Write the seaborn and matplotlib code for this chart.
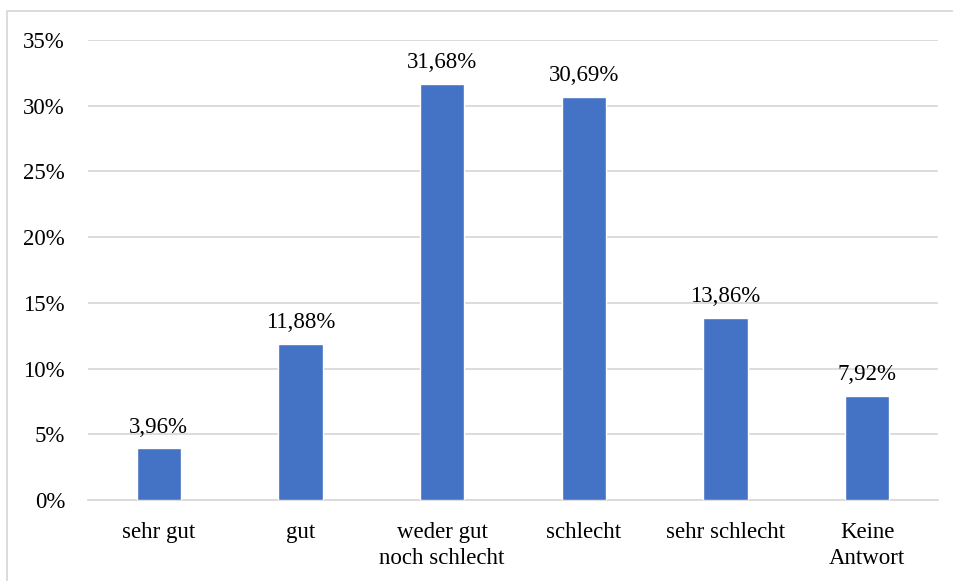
import matplotlib
matplotlib.use("Agg")
import matplotlib.pyplot as plt
import seaborn as sns
import pandas as pd
from matplotlib.patches import Rectangle
from matplotlib.ticker import FuncFormatter, MultipleLocator

categories = ["sehr gut", "gut", "weder gut\nnoch schlecht", "schlecht", "sehr schlecht", "Keine\nAntwort"]
values = [3.96, 11.88, 31.68, 30.69, 13.86, 7.92]

sns.set_theme(style="white")
plt.rcParams["font.family"] = ["Liberation Serif", "DejaVu Serif"]

df = pd.DataFrame({"Kategorie": categories, "Anteil": values})

fig = plt.figure(figsize=(9.54, 5.81), dpi=100)
ax = fig.add_axes([88 / 954, 1 - 500 / 581, (938 - 88) / 954, (500 - 40) / 581])

sns.barplot(data=df, x="Kategorie", y="Anteil", color="#4472C4", width=0.315,
            saturation=1, ax=ax, zorder=3)

FS = 16.5
ax.set_ylim(0, 35)
ax.set_xlim(-0.5, len(categories) - 0.5)
ax.yaxis.set_major_locator(MultipleLocator(5))
ax.yaxis.set_major_formatter(FuncFormatter(lambda v, _: f"{v:.0f}%"))
ax.grid(axis="y", color="#D9D9D9", linewidth=1.3, zorder=0)
ax.set_axisbelow(True)
for s in ["top", "right", "left"]:
    ax.spines[s].set_visible(False)
ax.spines["bottom"].set_color("#D9D9D9")
ax.spines["bottom"].set_linewidth(1.3)
ax.set_xlabel("")
ax.set_ylabel("")
ax.tick_params(axis="both", length=0, labelsize=FS, colors="black")
ax.tick_params(axis="y", pad=16.5)
ax.tick_params(axis="x", pad=15.5)
for lbl in ax.get_xticklabels():
    lbl.set_linespacing(1.35)

for bar, v in zip(ax.patches, values):
    ax.annotate(f"{v:.2f}%".replace(".", ","),
                (bar.get_x() + bar.get_width() / 2, bar.get_height()),
                xytext=(0, 7.5), textcoords="offset points",
                ha="center", va="bottom", fontsize=FS, color="black")

# light frame around the chart area
fig.patches.append(Rectangle((7 / 954, -0.1), 1.2, 1 - 11 / 581 + 0.1,
                             transform=fig.transFigure, fill=False,
                             edgecolor="#D9D9D9", linewidth=1.3))

fig.savefig("out.png", dpi=100)
